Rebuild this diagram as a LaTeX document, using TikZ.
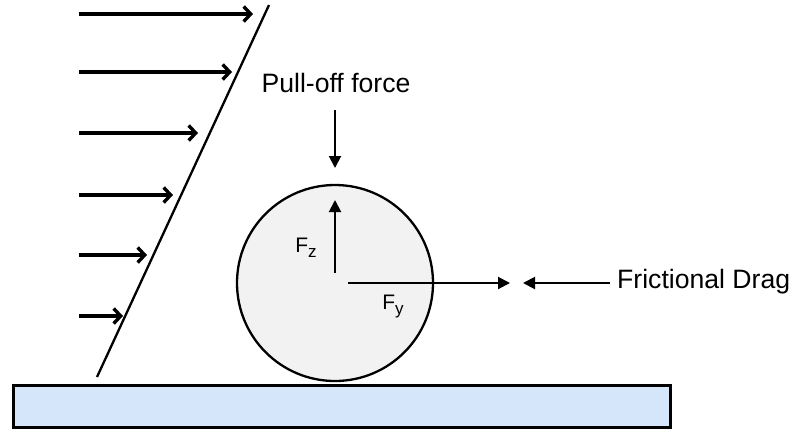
\documentclass[tikz,border=0pt]{standalone}
\usepackage{fontspec}
\setmainfont{Liberation Sans}
\usetikzlibrary{arrows.meta}
\definecolor{groundblue}{RGB}{213,230,250}
\definecolor{ballgray}{RGB}{242,242,242}
\newcommand{\myforce}[1]{\fontsize{21}{24}\selectfont F\raisebox{-5pt}{\fontsize{17}{20}\selectfont #1}}
\begin{document}
\begin{tikzpicture}[x=1pt,y=-1pt,
  flowarrow/.style={line width=3.6pt,-{Straight Barb[length=7pt,width=15pt,line width=3.4pt]}},
  forcearrow/.style={line width=2pt,-{Triangle[length=12pt,width=12pt]}},
  bigtext/.style={font=\fontsize{26.6}{30}\selectfont,inner sep=0pt},
  subtext/.style={inner sep=0pt}]
\useasboundingbox (0,0) rectangle (797,429);
% ground
\node[draw,line width=2.6pt,fill=groundblue,minimum width=657pt,minimum height=42pt,inner sep=0pt,anchor=north west] (ground) at (12,384) {};
% slope line
\coordinate (s1) at (97,377);
\coordinate (s2) at (269,5);
\draw[line width=2.3pt] (s1) -- (s2);
% flow arrows
\foreach \y/\tip [count=\i] in {14/253,72/232,133/198,195/173,255/147,316/123}{
  \coordinate (fa\i) at (79,\y);
  \coordinate (fb\i) at (\tip,\y);
  \draw[flowarrow] (fa\i) -- (fb\i);
}
% ball
\node[draw,line width=2.3pt,fill=ballgray,circle,minimum size=196pt,inner sep=0pt] (ball) at (335,283) {};
% pull-off force
\node[bigtext] (pull) at (336,83) {Pull-off force};
\coordinate (pa) at (335,110);
\coordinate (pb) at (335,168);
\draw[forcearrow] (pa) -- (pb);
% Fz
\coordinate (za) at (335,273);
\coordinate (zb) at (335,200);
\draw[forcearrow] (za) -- (zb);
\node[subtext] (fz) at (306,248) {\myforce{z}};
% Fy
\coordinate (ya) at (348,283);
\coordinate (yb) at (510,283);
\draw[forcearrow] (ya) -- (yb);
\node[subtext] (fy) at (393,307) {\myforce{y}};
% frictional drag
\node[bigtext,anchor=west] (drag) at (617,282) {Frictional Drag};
\coordinate (da) at (610,283);
\coordinate (db) at (523,283);
\draw[forcearrow] (da) -- (db);
\end{tikzpicture}
\end{document}
